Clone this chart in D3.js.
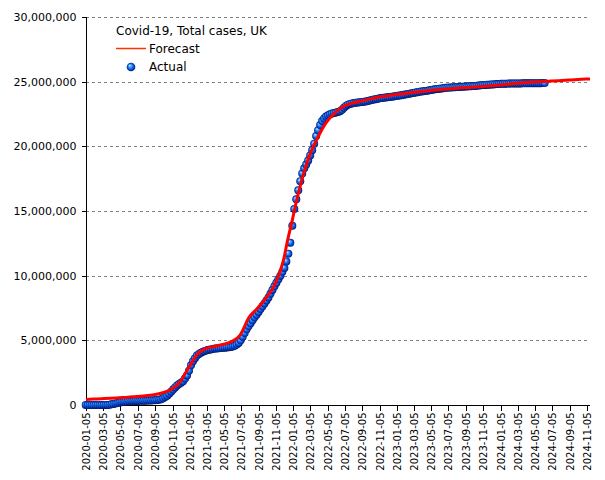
<!DOCTYPE html>
<html><head><meta charset="utf-8">
<script src="https://cdn.jsdelivr.net/npm/d3@7"></script>
<style>
body{margin:0;background:#fff;}
text{font-family:"DejaVu Sans",sans-serif;fill:#000;}
</style></head><body>
<svg id="chart" width="605" height="480"></svg>
<script>
const chartTitle = "Covid-19, Total cases, UK";
const legendForecast = "Forecast";
const legendActual = "Actual";

// Actual: weekly cumulative totals (millions)
const actualStart = "2020-01-04";
const actualStepDays = 7;
const actualMillions = [
 0,0,0,0,0,0,0,0,0,0,
 0.001,0.006,0.02,0.05,0.08,0.12,0.15,0.19,0.22,0.24,
 0.26,0.27,0.29,0.30,0.30,0.31,0.31,0.32,0.32,0.33,
 0.33,0.34,0.35,0.35,0.36,0.37,0.39,0.41,0.44,0.52,
 0.62,0.72,0.87,1.03,1.19,1.36,1.51,1.62,1.72,1.84,
 2.04,2.29,2.65,3.07,3.39,3.62,3.82,3.94,4.04,4.12,
 4.18,4.23,4.27,4.30,4.33,4.36,4.37,4.39,4.40,4.42,
 4.43,4.45,4.47,4.49,4.52,4.58,4.67,4.80,5.00,5.28,
 5.56,5.85,6.10,6.32,6.55,6.78,6.98,7.20,7.42,7.63,
 7.85,8.08,8.32,8.60,8.90,9.18,9.45,9.72,10.0,10.3,
 10.6,11.1,11.7,12.55,13.86,15.15,15.9,16.6,17.3,17.9,
 18.3,18.6,18.9,19.3,19.7,20.2,20.8,21.25,21.65,21.95,
 22.15,22.3,22.4,22.48,22.54,22.58,22.62,22.66,22.72,22.82,
 22.98,23.12,23.22,23.28,23.32,23.35,23.37,23.39,23.41,23.43,
 23.45,23.47,23.50,23.54,23.58,23.62,23.65,23.68,23.71,23.73,
 23.75,23.77,23.79,23.81,23.83,23.86,23.89,23.91,23.93,23.95,
 23.98,24.01,24.04,24.07,24.10,24.13,24.16,24.19,24.22,24.24,
 24.26,24.28,24.30,24.33,24.36,24.39,24.42,24.44,24.46,24.48,
 24.50,24.52,24.53,24.54,24.55,24.56,24.57,24.58,24.59,24.60,
 24.61,24.62,24.63,24.64,24.65,24.66,24.67,24.68,24.70,24.72,
 24.74,24.75,24.76,24.77,24.78,24.79,24.80,24.81,24.82,24.83,
 24.83,24.84,24.84,24.85,24.85,24.85,24.86,24.86,24.86,24.86,
 24.87,24.87,24.87,24.87,24.87,24.88,24.88,24.88,24.88,24.88,24.89,24.89
];

// Forecast curve (millions)
const forecastDates = [
 "2020-01-05","2020-02-01","2020-03-01","2020-04-01","2020-05-01","2020-06-01","2020-07-01","2020-08-01",
 "2020-09-01","2020-10-01","2020-11-01","2020-12-01","2021-01-01","2021-02-01","2021-03-01","2021-04-01",
 "2021-05-01","2021-06-01","2021-07-01","2021-08-01","2021-09-01","2021-10-01","2021-11-01","2021-12-01",
 "2021-12-15","2022-01-01","2022-01-15","2022-02-01","2022-03-01","2022-04-01","2022-05-01","2022-06-01",
 "2022-07-01","2022-08-01","2022-09-01","2022-10-01","2022-11-01","2022-12-01","2023-01-01","2023-03-01",
 "2023-05-01","2023-07-01","2023-09-01","2023-11-01","2024-01-01","2024-03-01","2024-05-01","2024-07-01",
 "2024-09-01","2024-11-01","2024-11-15"
];
const forecastMillions = [
 0.43,0.46,0.49,0.52,0.56,0.60,0.66,0.71,
 0.80,0.95,1.22,1.78,2.90,3.95,4.35,4.52,
 4.68,4.90,5.40,6.77,7.50,8.30,9.35,11.2,
 12.7,14.3,15.7,17.2,19.2,20.7,21.85,22.6,
 23.1,23.35,23.5,23.65,23.8,23.9,24.0,24.17,
 24.32,24.44,24.54,24.62,24.74,24.87,24.97,25.05,
 25.12,25.2,25.2
];

const yTickValues = [0, 5000000, 10000000, 15000000, 20000000, 25000000, 30000000];
const xTickLabels = [
 "2020-01-05","2020-03-05","2020-05-05","2020-07-05","2020-09-05","2020-11-05",
 "2021-01-05","2021-03-05","2021-05-05","2021-07-05","2021-09-05","2021-11-05",
 "2022-01-05","2022-03-05","2022-05-05","2022-07-05","2022-09-05","2022-11-05",
 "2023-01-05","2023-03-05","2023-05-05","2023-07-05","2023-09-05","2023-11-05",
 "2024-01-05","2024-03-05","2024-05-05","2024-07-05","2024-09-05","2024-11-05"
];
const xDomain = ["2020-01-05", "2024-11-15"];

const parse = d3.utcParse("%Y-%m-%d");
const fmt = d3.utcFormat("%Y-%m-%d");
const svg = d3.select("#chart");
const L = 86, R = 590, T = 17, B = 405;

const x = d3.scaleUtc().domain(xDomain.map(parse)).range([L, R]);
const y = d3.scaleLinear().domain([0, 30000000]).range([B, T]);

const defs = svg.append("defs");
const g = defs.append("radialGradient").attr("id", "ball")
  .attr("cx", "50%").attr("cy", "50%").attr("r", "50%").attr("fx", "35%").attr("fy", "30%");
[[0, "#e0f4ff"], [0.28, "#50b0ff"], [0.62, "#0c62f0"], [0.86, "#0634b0"], [1, "#001258"]]
  .forEach(([o, c]) => g.append("stop").attr("offset", o).attr("stop-color", c));

// grid
svg.append("g").selectAll("line").data(yTickValues.filter(v => v > 0)).join("line")
  .attr("x1", L).attr("x2", R)
  .attr("y1", d => Math.round(y(d)) + 0.5).attr("y2", d => Math.round(y(d)) + 0.5)
  .attr("stroke", "#808080").attr("stroke-dasharray", "3,3").attr("shape-rendering", "crispEdges");

// axes
const yAxis = d3.axisLeft(y).tickValues(yTickValues).tickSize(5).tickPadding(5)
  .tickFormat(d3.format(",d"));
const ya = svg.append("g").attr("transform", `translate(${L + 0.5},0)`).call(yAxis);
ya.selectAll("path").attr("d", `M0,${T}V${B + 0.5}`);
ya.selectAll("text").style("font-size", "11px").style("font-family", "DejaVu Sans");
ya.selectAll("line,path").attr("shape-rendering", "crispEdges");

const xAxis = d3.axisBottom(x).tickValues(xTickLabels.map(parse)).tickSize(5)
  .tickFormat(d => fmt(d));
const xa = svg.append("g").attr("transform", `translate(0,${B + 0.5})`).call(xAxis);
xa.selectAll("path").attr("d", `M${L},0H${R}`);
xa.selectAll("text").attr("transform", "rotate(-90)").attr("x", -7).attr("y", 0)
  .attr("dy", "0.35em").style("text-anchor", "end")
  .style("font-size", "10px").style("font-family", "DejaVu Sans");
xa.selectAll("line,path").attr("shape-rendering", "crispEdges");
svg.selectAll(".domain").attr("stroke", "#000");

// actual dots
const start = parse(actualStart);
const actual = actualMillions.map((v, i) => ({ date: d3.utcDay.offset(start, i * actualStepDays), value: v * 1e6 }));
svg.append("g").selectAll("circle").data(actual).join("circle")
  .attr("cx", d => x(d.date)).attr("cy", d => y(d.value)).attr("r", 4)
  .attr("fill", "url(#ball)");

// forecast line
const forecast = forecastDates.map((d, i) => ({ date: parse(d), value: forecastMillions[i] * 1e6 }));
svg.append("path").datum(forecast)
  .attr("d", d3.line().x(d => x(d.date)).y(d => y(d.value)).curve(d3.curveMonotoneX))
  .attr("fill", "none").attr("stroke", "#ff0000").attr("stroke-width", 3);

// legend
svg.append("text").attr("x", 116).attr("y", 35).style("font-size", "12px").text(chartTitle);
svg.append("line").attr("x1", 116).attr("x2", 146).attr("y1", 48.5).attr("y2", 48.5)
  .attr("stroke", "#ff3300").attr("stroke-width", 1.5);
svg.append("text").attr("x", 149).attr("y", 53).style("font-size", "12px").text(legendForecast);
svg.append("circle").attr("cx", 131).attr("cy", 67).attr("r", 4.3).attr("fill", "url(#ball)");
svg.append("text").attr("x", 149).attr("y", 71).style("font-size", "12px").text(legendActual);
</script>
</body></html>
